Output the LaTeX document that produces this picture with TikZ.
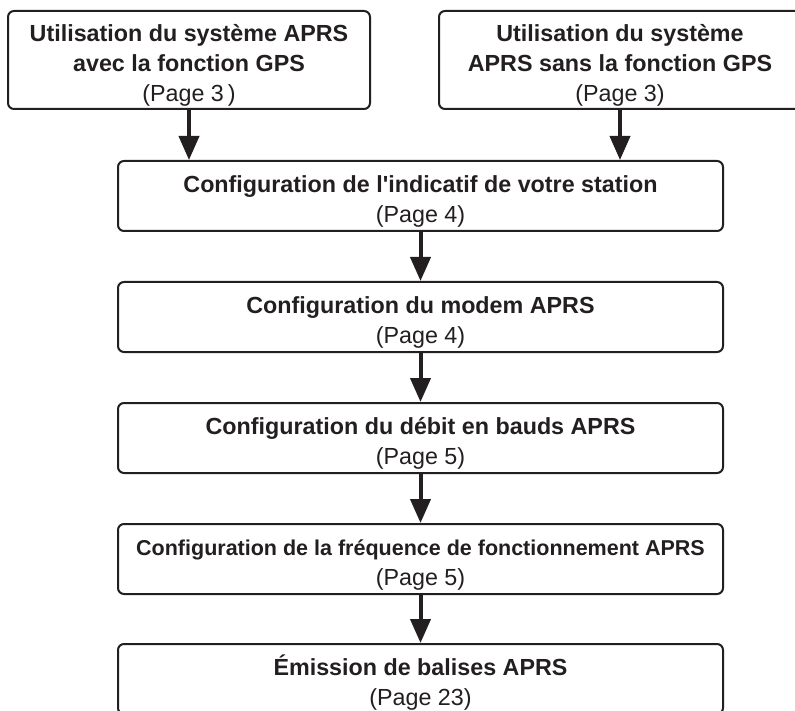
\documentclass[tikz,border=0pt]{standalone}
\usepackage{fontspec}
\setmainfont{Liberation Sans}
\usetikzlibrary{arrows.meta,positioning}
\definecolor{ink}{HTML}{231F20}
\newcommand{\tall}{\rule{0pt}{27pt}}
\tikzset{
  box/.style={draw=ink, text=ink, rounded corners=6pt, line width=2pt, align=center,
    inner sep=0pt, minimum width=605pt, minimum height=70pt,
    font=\fontsize{23.3}{30}\selectfont},
  topbox/.style={box, minimum width=362pt, minimum height=98pt},
  arrow/.style={-{Triangle[width=20pt,length=24pt]}, draw=ink, line width=4pt}
}

\begin{document}
\begin{tikzpicture}[x=1pt,y=1pt]
\useasboundingbox (0,0) rectangle (795,-711);
% two starting cases
\node[topbox] (gpsA) at (189,-60) {\tall\textbf{Utilisation du système APRS}\\\textbf{avec la fonction GPS}\\(Page 3\,)};
\node[topbox] (gpsB) at (620,-60) {\tall\textbf{Utilisation du système}\\\textbf{APRS sans la fonction GPS}\\(Page 3)};
% settings chain
\node[box] (indic) at (420.5,-196) {\tall\textbf{Configuration de l\textquotesingle indicatif de votre station}\\(Page 4)};
\node[box, below=49pt of indic] (modem) {\tall\textbf{Configuration du modem APRS}\\(Page 4)};
\node[box, below=49pt of modem] (baud) {\tall\textbf{Configuration du débit en bauds APRS}\\(Page 5)};
\node[box, below=49pt of baud] (freq) {\tall{\fontsize{21.5}{30}\selectfont\textbf{Configuration de la fréquence de fonctionnement APRS}}\\(Page 5)};
\node[box, below=48pt of freq] (balise) {\tall\textbf{Émission de balises APRS}\\(Page 23)};

\draw[arrow] (gpsA.south) -- (gpsA.south |- indic.north);
\draw[arrow] (gpsB.south) -- (gpsB.south |- indic.north);
\draw[arrow] (indic.south) -- (modem.north);
\draw[arrow] (modem.south) -- (baud.north);
\draw[arrow] (baud.south) -- (freq.north);
\draw[arrow] (freq.south) -- (balise.north);
\end{tikzpicture}
\end{document}
